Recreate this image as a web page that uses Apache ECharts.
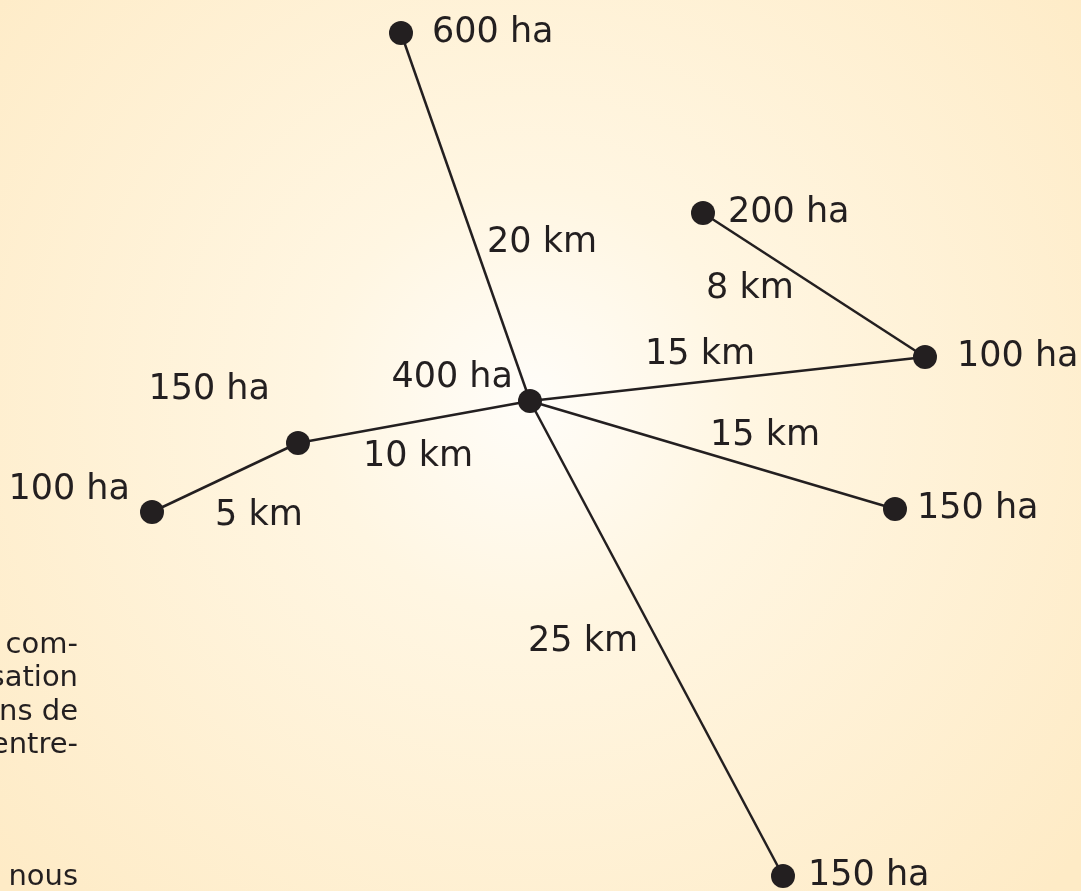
<!DOCTYPE html>
<html>
<head>
<meta charset="utf-8">
<style>html,body{margin:0;padding:0;}#c{width:1081px;height:891px;}</style>
<script src="https://cdn.jsdelivr.net/npm/echarts@6/dist/echarts.min.js"></script>
</head>
<body>
<div id="c"></div>
<script>
// Nodes: name, area label, position (in the drawing's plane units)
const nodeNames = ['centre', 'n600', 'n200', 'n100r', 'n150r', 'n150b', 'n150l', 'n100l'];
const nodeAreas = ['400 ha', '600 ha', '200 ha', '100 ha', '150 ha', '150 ha', '150 ha', '100 ha'];
const nodeX = [530, 401, 703, 925, 895, 783, 298, 152];
const nodeY = [401, 33, 213, 357, 509, 876, 443, 512];
// Links: source, target, distance label
const linkSource = ['centre', 'centre', 'n200', 'centre', 'centre', 'centre', 'n150l'];
const linkTarget = ['n600', 'n100r', 'n100r', 'n150r', 'n150b', 'n150l', 'n100l'];
const linkDist = ['20 km', '15 km', '8 km', '15 km', '25 km', '10 km', '5 km'];
// Distance label anchor positions
const distLabelX = [542, 700, 750, 765, 583, 418, 259];
const distLabelY = [243, 355, 289, 436, 642, 457, 516];
// Side text fragments
const sideText = ['com-', 'sation', 'ns de', 'entre-', 'nous'];
const sideTextY = [645, 678, 712, 745, 877];

const ink = '#231f20';
const fontFam = 'DejaVu Sans';

const labelCfg = {
  centre: {position: 'left', offset: [0, -23]},
  n600: {position: 'right', distance: 19},
  n200: {position: 'right', distance: 13},
  n100r: {position: 'right', distance: 20},
  n150r: {position: 'right', distance: 10},
  n150b: {position: 'right', distance: 13},
  n150l: {position: 'left', offset: [-11, -53]},
  n100l: {position: 'left', distance: 10, offset: [0, -22]}
};

const nodes = nodeNames.map((n, i) => ({
  name: n,
  value: [nodeX[i], nodeY[i]],
  label: Object.assign({show: true, formatter: nodeAreas[i]}, labelCfg[n])
}));
const links = linkSource.map((s, i) => ({source: s, target: linkTarget[i]}));

const chart = echarts.init(document.getElementById('c'));
chart.setOption({
  animation: false,
  graphic: [
    {
      type: 'rect', z: -10, silent: true,
      shape: {x: 0, y: 0, width: 1081, height: 891},
      style: {
        fill: new echarts.graphic.RadialGradient(0.49, 0.45, 0.8, [
          {offset: 0, color: '#FFFDF9'},
          {offset: 0.3, color: '#FFF6E2'},
          {offset: 1, color: '#FEEBC6'}
        ])
      }
    }
  ].concat(sideText.map((t, i) => ({
    type: 'text', silent: true,
    x: 78, y: sideTextY[i],
    style: {text: t, fill: ink, fontSize: 29, fontFamily: fontFam, align: 'right', verticalAlign: 'middle'}
  }))),
  grid: {left: 0, right: 0, top: 0, bottom: 0},
  xAxis: {type: 'value', min: 0, max: 1081, show: false},
  yAxis: {type: 'value', min: 0, max: 891, inverse: true, show: false},
  series: [
    {
      type: 'graph',
      coordinateSystem: 'cartesian2d',
      symbol: 'circle',
      symbolSize: 24,
      itemStyle: {color: ink, opacity: 1},
      lineStyle: {color: ink, width: 2.5, opacity: 1},
      label: {color: ink, fontSize: 35, fontFamily: fontFam},
      data: nodes,
      links: links,
      z: 2
    },
    {
      type: 'scatter',
      symbolSize: 0,
      silent: true,
      itemStyle: {opacity: 1},
      data: linkDist.map((d, i) => ({value: [distLabelX[i], distLabelY[i]], name: d})),
      label: {
        show: true, position: 'inside', formatter: p => p.name,
        color: ink, opacity: 1, fontSize: 35, fontFamily: fontFam
      },
      z: 3
    }
  ]
});
</script>
</body>
</html>
